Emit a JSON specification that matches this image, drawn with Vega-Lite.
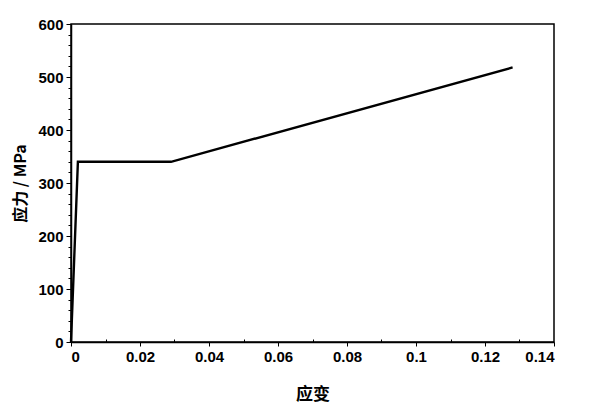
{
  "$schema": "https://vega.github.io/schema/vega-lite/v6.json",
  "autosize": "none",
  "padding": {"left": 71, "top": 24, "right": 46, "bottom": 71},
  "width": 483,
  "height": 318,
  "config": {
    "view": {"stroke": "black", "strokeWidth": 1.5},
    "font": "Liberation Sans"
  },
  "data": {"values": [
    {"strain": 0, "stress": 0},
    {"strain": 0.002, "stress": 340},
    {"strain": 0.029, "stress": 340},
    {"strain": 0.128, "stress": 518}
  ]},
  "resolve": {"axis": {"x": "independent", "y": "independent"}},
  "layer": [
    {
      "mark": {"type": "line", "color": "black", "strokeWidth": 2.4},
      "encoding": {
        "x": {"field": "strain", "type": "quantitative",
          "scale": {"domain": [0, 0.14], "nice": false, "zero": false},
          "axis": {"title": "应变", "orient": "bottom", "values": [0, 0.02, 0.04, 0.06, 0.08, 0.1, 0.12, 0.14],
            "format": "~g", "grid": false, "domainColor": "black", "domainWidth": 1.5,
            "tickColor": "black", "tickSize": 4, "labelFont": "Liberation Sans", "labelFontSize": 15, "labelFontWeight": "bold", "labelColor": "black",
            "labelPadding": 3, "titleFont": "Noto Sans CJK SC", "titleFontSize": 17, "titleFontWeight": "bold", "titleColor": "black", "titlePadding": 22}},
        "y": {"field": "stress", "type": "quantitative",
          "scale": {"domain": [0, 600], "nice": false},
          "axis": {"title": "应力 / MPa", "orient": "left", "values": [0, 100, 200, 300, 400, 500, 600],
            "grid": false, "domainColor": "black", "domainWidth": 1.5,
            "tickColor": "black", "tickSize": 5, "labelFont": "Liberation Sans", "labelFontSize": 15, "labelFontWeight": "bold", "labelColor": "black",
            "labelPadding": 3, "titleFont": "Noto Sans CJK SC", "titleFontSize": 16, "titleFontWeight": "bold", "titleColor": "black", "titlePadding": 9}}
      }
    },
    {
      "mark": {"type": "point", "opacity": 0},
      "encoding": {
        "x": {"field": "strain", "type": "quantitative",
          "axis": {"orient": "bottom", "title": null, "labels": false, "domain": false, "grid": false,
            "values": [0.01, 0.03, 0.05, 0.07, 0.09, 0.11, 0.13], "tickColor": "black", "tickSize": -3}},
        "y": {"field": "stress", "type": "quantitative",
          "axis": {"orient": "left", "title": null, "labels": false, "domain": false, "grid": false,
            "values": [20, 40, 60, 80, 120, 140, 160, 180, 220, 240, 260, 280, 320, 340, 360, 380, 420, 440, 460, 480, 520, 540, 560, 580],
            "tickColor": "black", "tickSize": 3}}
      }
    }
  ]
}
